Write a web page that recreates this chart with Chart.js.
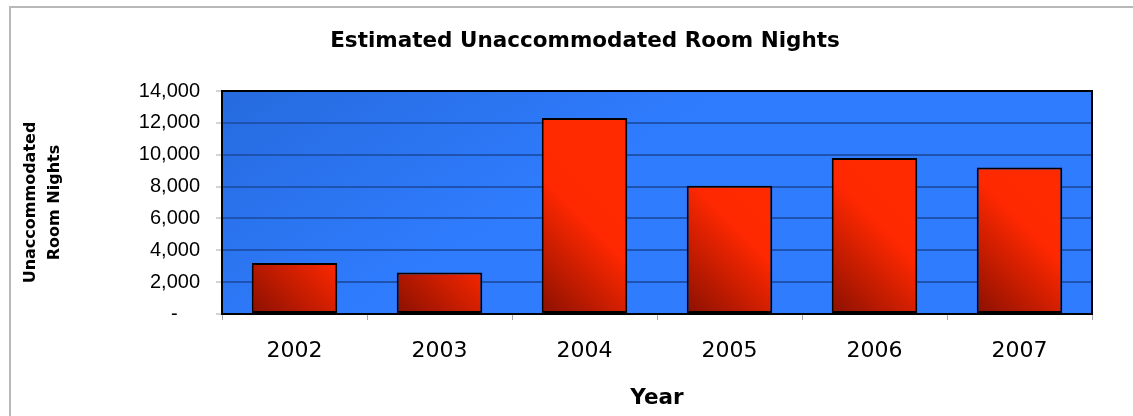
<!DOCTYPE html>
<html>
<head>
<meta charset="utf-8">
<title>Estimated Unaccommodated Room Nights</title>
<script src="https://cdn.jsdelivr.net/npm/chart.js@4.4.1/dist/chart.umd.min.js"></script>
<style>
  html, body { margin: 0; padding: 0; background: #ffffff; }
  #wrap { width: 1133px; height: 416px; position: relative; }
</style>
</head>
<body>
<div id="wrap"><canvas id="chart" width="1133" height="416"></canvas></div>
<script>
// Data
const years = ['2002', '2003', '2004', '2005', '2006', '2007'];
const roomNights = [3200, 2600, 12300, 8050, 9800, 9200];
const yTickLabels = ['-    ', '2,000', '4,000', '6,000', '8,000', '10,000', '12,000', '14,000'];

const BAR_FRACTION = 0.59;

// Red bar fill: dark in the lower-left corner, bright toward the upper right
function barFill(ctx) {
  const chart = ctx.chart;
  if (!chart.chartArea || ctx.type !== 'data') return '#e82400';
  const xs = chart.scales.x, ys = chart.scales.y;
  const cx = xs.getPixelForValue(ctx.dataIndex);
  const half = (xs.width / years.length) * BAR_FRACTION / 2;
  const left = cx - half, right = cx + half;
  const bottom = ys.getPixelForValue(0);
  const w = right - left;
  const g = chart.ctx.createLinearGradient(left, bottom, right, bottom - w);
  g.addColorStop(0, '#8a1000');
  g.addColorStop(0.8, '#ff2800');
  g.addColorStop(1, '#ff2a00');
  return g;
}

// Page frame, plot background, plot outline and title placement
const framePlugin = {
  id: 'frame',
  afterLayout(chart) {
    // centre the heading over the plot rather than the whole canvas
    const t = chart.titleBlock;
    if (t) t.left += 78;
  },
  beforeDraw(chart) {
    const c = chart.ctx, a = chart.chartArea;
    c.save();
    c.strokeStyle = '#b8b8b8';
    c.lineWidth = 2;
    c.beginPath();
    c.moveTo(10, 420);
    c.lineTo(10, 7);
    c.lineTo(1133, 7);
    c.stroke();
    const bg = c.createLinearGradient(a.left, a.top, a.left + a.width * 0.15, a.bottom);
    bg.addColorStop(0, '#266bde');
    bg.addColorStop(1, '#2f7cff');
    c.fillStyle = bg;
    c.fillRect(a.left, a.top, a.width, a.height);
    c.restore();
  },
  afterDraw(chart) {
    const c = chart.ctx, a = chart.chartArea;
    c.save();
    c.strokeStyle = '#000000';
    c.lineWidth = 2;
    c.strokeRect(a.left, a.top, a.width, a.height);
    c.restore();
  }
};

new Chart(document.getElementById('chart'), {
  type: 'bar',
  data: {
    labels: years,
    datasets: [{
      data: roomNights,
      backgroundColor: barFill,
      borderColor: '#000000',
      borderWidth: 2,
      borderSkipped: false,
      categoryPercentage: 1,
      barPercentage: BAR_FRACTION
    }]
  },
  options: {
    responsive: false,
    animation: false,
    devicePixelRatio: 1,
    layout: { padding: { top: 8, left: 0, right: 41, bottom: 4 } },
    plugins: {
      legend: { display: false },
      tooltip: { enabled: false },
      title: {
        display: true,
        text: 'Estimated Unaccommodated Room Nights',
        color: '#000000',
        font: { family: 'DejaVu Sans', size: 21.5, weight: 'bold', lineHeight: 1.2 },
        padding: { top: 21, bottom: 36.2 }
      }
    },
    scales: {
      x: {
        afterFit(scale) { scale.height = 98; },
        grid: {
          drawOnChartArea: false,
          drawTicks: true,
          tickLength: 6,
          color: '#a8a8a8',
          offset: true
        },
        border: { display: true, color: '#000000', width: 2 },
        ticks: {
          color: '#000000',
          padding: 18,
          font: { family: 'DejaVu Sans', size: 22 }
        },
        title: {
          display: true,
          text: 'Year',
          color: '#000000',
          font: { family: 'DejaVu Sans', size: 21.5, weight: 'bold', lineHeight: 1.2 },
          padding: { top: 0, bottom: 1 }
        }
      },
      y: {
        min: 0,
        max: 14000,
        afterFit(scale) { scale.width = 222; },
        grid: {
          color: '#1d52b0',
          lineWidth: 2,
          drawTicks: true,
          tickLength: 6,
          tickColor: '#a8a8a8',
          tickWidth: 1
        },
        border: { display: true, color: '#000000', width: 2 },
        ticks: {
          stepSize: 2000,
          color: '#000000',
          padding: 16,
          font: { family: 'Liberation Sans', size: 20 },
          callback: (value, index) => yTickLabels[index]
        },
        title: {
          display: true,
          text: ['Unaccommodated', 'Room Nights'],
          color: '#000000',
          font: { family: 'DejaVu Sans', size: 16, weight: 'bold', lineHeight: 1.5 },
          padding: { top: 19, bottom: 0 }
        }
      }
    }
  },
  plugins: [framePlugin]
});
</script>
</body>
</html>
